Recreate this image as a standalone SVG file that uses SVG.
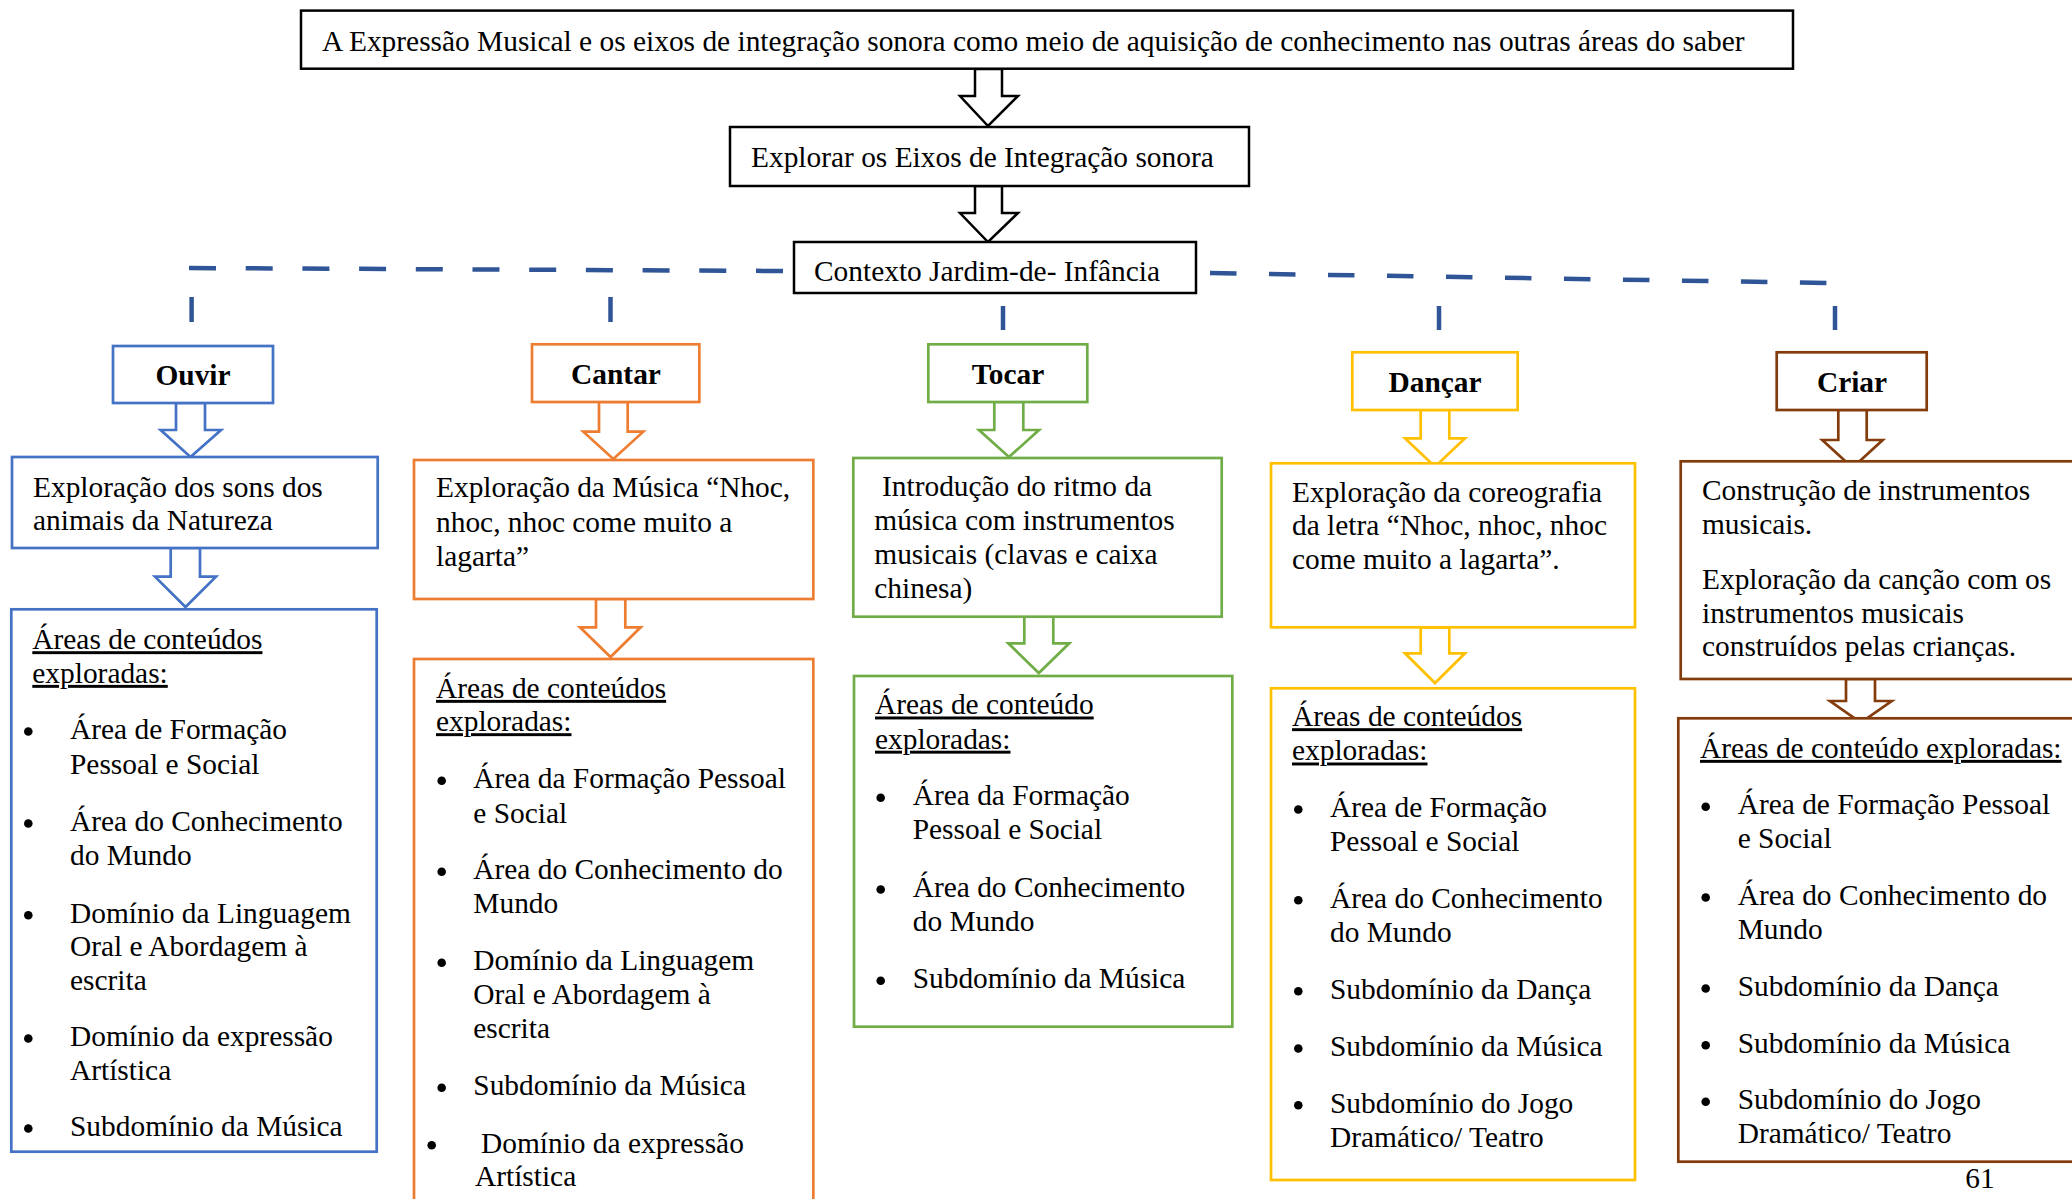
<svg xmlns="http://www.w3.org/2000/svg" width="2072" height="1199" viewBox="0 0 2072 1199">
<style>
text{font-family:"Liberation Serif","Times New Roman",serif;font-size:29.4px;fill:#000;transform:translateY(1.2px)}
.b{font-weight:bold;text-anchor:middle}
.h{text-decoration:underline}
.mid{text-anchor:middle}
.k{fill:#fff;stroke:#000;stroke-width:2.5}
.blue{fill:#fff;stroke:#4472C4;stroke-width:2.7}
.orange{fill:#fff;stroke:#ED7D31;stroke-width:2.7}
.green{fill:#fff;stroke:#70AD47;stroke-width:2.7}
.gold{fill:#fff;stroke:#FFC000;stroke-width:2.7}
.brown{fill:#fff;stroke:#843C0C;stroke-width:2.7}
.dash{fill:none;stroke:#2F5597;stroke-width:4.5}
.dot{fill:#000}
</style>
<rect width="2072" height="1199" fill="#fff"/>

<g id="connectors">
  <path class="dash" d="M189,268 L783,271" stroke-dasharray="27 29.7"/>
  <path class="dash" d="M1210,273 L1827,283" stroke-dasharray="26.5 32.5"/>
  <line class="dash" x1="191.6" y1="297" x2="191.6" y2="322"/>
  <line class="dash" x1="610.5" y1="297" x2="610.5" y2="322"/>
  <line class="dash" x1="1003" y1="306" x2="1003" y2="330"/>
  <line class="dash" x1="1439" y1="306" x2="1439" y2="330"/>
  <line class="dash" x1="1835" y1="306" x2="1835" y2="330"/>
  <polygon class="k" points="975,69 1002,69 1002,96 1018,96 988,126 960,96 975,96"/>
  <polygon class="k" points="975,186 1002,186 1002,213 1018,213 988,242 960,213 975,213"/>
  <polygon class="blue" points="176,403 205,403 205,430 221,430 190.5,457 160.7,430 176,430"/>
  <polygon class="blue" points="170.7,548 200,548 200,576.7 216,576.7 185.5,607 155,576.7 170.7,576.7"/>
  <polygon class="orange" points="599,402 627.7,402 627.7,431.7 643.3,431.7 613.3,459 583.3,431.7 599,431.7"/>
  <polygon class="orange" points="596,599 625.3,599 625.3,627.3 640.7,627.3 610.5,657 580,627.3 596,627.3"/>
  <polygon class="green" points="994.3,402 1023.3,402 1023.3,430 1039,430 1009,457 979,430 994.3,430"/>
  <polygon class="green" points="1024.3,616.7 1053.3,616.7 1053.3,643.3 1069.3,643.3 1038.8,673 1008.3,643.3 1024.3,643.3"/>
  <polygon class="gold" points="1420.7,410 1449.3,410 1449.3,438.3 1465,438.3 1435,466.7 1405,438.3 1420.7,438.3"/>
  <polygon class="gold" points="1420.7,627.3 1449.3,627.3 1449.3,653.3 1465,653.3 1435,683 1405,653.3 1420.7,653.3"/>
  <polygon class="brown" points="1838.3,410 1866.7,410 1866.7,440 1882.7,440 1852.5,467.7 1822.3,440 1838.3,440"/>
  <polygon class="brown" points="1846,679 1875,679 1875,701 1891.7,701 1860.8,722.7 1830,701 1846,701"/>
</g>

<g id="titulo">
  <rect class="k" x="301" y="10.6" width="1492" height="58.1"/>
  <text x="322" y="50">A Expressão Musical e os eixos de integração sonora como meio de aquisição de conhecimento nas outras áreas do saber</text>
</g>
<g id="explorar">
  <rect class="k" x="730" y="127" width="519" height="59"/>
  <text x="751" y="166">Explorar os Eixos de Integração sonora</text>
</g>
<g id="contexto">
  <rect class="k" x="794" y="242" width="402" height="51"/>
  <text x="814" y="280">Contexto Jardim-de- Infância</text>
</g>

<!-- Ouvir -->
<g id="ouvir">
  <rect class="blue" x="113" y="346" width="160" height="57"/>
  <text class="b" x="193" y="384">Ouvir</text>
</g>
<g id="ouvir-atividade">
  <rect class="blue" x="12" y="457" width="365.7" height="91"/>
  <text x="33" y="496">Exploração dos sons dos</text>
  <text x="33" y="529">animais da Natureza</text>
</g>
<g id="ouvir-areas">
  <rect class="blue" x="11.3" y="609.3" width="365.4" height="542.4"/>
  <text class="h" x="32.3" y="648">Áreas de conteúdos</text>
  <text class="h" x="32.3" y="681.7">exploradas:</text>
  <circle class="dot" cx="28.3" cy="731.5" r="4.3"/>
  <text x="70" y="738">Área de Formação</text>
  <text x="70" y="772.7">Pessoal e Social</text>
  <circle class="dot" cx="28.3" cy="823.5" r="4.3"/>
  <text x="70" y="830">Área do Conhecimento</text>
  <text x="70" y="864">do Mundo</text>
  <circle class="dot" cx="28.3" cy="915.2" r="4.3"/>
  <text x="70" y="921.7">Domínio da Linguagem</text>
  <text x="70" y="955">Oral e Abordagem à</text>
  <text x="70" y="988.5">escrita</text>
  <circle class="dot" cx="28.3" cy="1038.5" r="4.3"/>
  <text x="70" y="1045">Domínio da expressão</text>
  <text x="70" y="1078.5">Artística</text>
  <circle class="dot" cx="28.3" cy="1128.5" r="4.3"/>
  <text x="70" y="1135">Subdomínio da Música</text>
</g>

<!-- Cantar -->
<g id="cantar">
  <rect class="orange" x="532" y="344.3" width="167.3" height="57.7"/>
  <text class="b" x="616" y="383.3">Cantar</text>
</g>
<g id="cantar-atividade">
  <rect class="orange" x="414" y="460" width="399.3" height="139"/>
  <text x="436" y="496">Exploração da Música “Nhoc,</text>
  <text x="436" y="530.7">nhoc, nhoc come muito a</text>
  <text x="436" y="565">lagarta”</text>
</g>
<g id="cantar-areas">
  <rect class="orange" x="414" y="659" width="399.3" height="600"/>
  <text class="h" x="436" y="696.7">Áreas de conteúdos</text>
  <text class="h" x="436" y="730">exploradas:</text>
  <circle class="dot" cx="441.7" cy="780.8" r="4.3"/>
  <text x="473.3" y="787.3">Área da Formação Pessoal</text>
  <text x="473.3" y="821.7">e Social</text>
  <circle class="dot" cx="441.7" cy="871.8" r="4.3"/>
  <text x="473.3" y="878.3">Área do Conhecimento do</text>
  <text x="473.3" y="912.3">Mundo</text>
  <circle class="dot" cx="441.7" cy="962.8" r="4.3"/>
  <text x="473.3" y="969.3">Domínio da Linguagem</text>
  <text x="473.3" y="1003.3">Oral e Abordagem à</text>
  <text x="473.3" y="1037.3">escrita</text>
  <circle class="dot" cx="441.7" cy="1087.8" r="4.3"/>
  <text x="473.3" y="1094.3">Subdomínio da Música</text>
  <circle class="dot" cx="431.7" cy="1145.2" r="4.3"/>
  <text x="481" y="1151.7">Domínio da expressão</text>
  <text x="475" y="1185">Artística</text>
</g>

<!-- Tocar -->
<g id="tocar">
  <rect class="green" x="928.3" y="344.3" width="159" height="57.7"/>
  <text class="b" x="1008" y="382.7">Tocar</text>
</g>
<g id="tocar-atividade">
  <rect class="green" x="853.3" y="458" width="368.4" height="158.7"/>
  <text x="882" y="495">Introdução do ritmo da</text>
  <text x="874.3" y="529.3">música com instrumentos</text>
  <text x="874.3" y="563.3">musicais (clavas e caixa</text>
  <text x="874.3" y="597.3">chinesa)</text>
</g>
<g id="tocar-areas">
  <rect class="green" x="854" y="676" width="378.3" height="350.7"/>
  <text class="h" x="875" y="713.3">Áreas de conteúdo</text>
  <text class="h" x="875" y="747.5">exploradas:</text>
  <circle class="dot" cx="880.7" cy="797.8" r="4.3"/>
  <text x="912.7" y="804.3">Área da Formação</text>
  <text x="912.7" y="838.3">Pessoal e Social</text>
  <circle class="dot" cx="880.7" cy="889.5" r="4.3"/>
  <text x="912.7" y="896">Área do Conhecimento</text>
  <text x="912.7" y="930">do Mundo</text>
  <circle class="dot" cx="880.7" cy="980.8" r="4.3"/>
  <text x="912.7" y="987.3">Subdomínio da Música</text>
</g>

<!-- Dançar -->
<g id="dancar">
  <rect class="gold" x="1352.3" y="352.3" width="165.4" height="57.7"/>
  <text class="b" x="1435" y="390.7">Dançar</text>
</g>
<g id="dancar-atividade">
  <rect class="gold" x="1271" y="463.3" width="364" height="164"/>
  <text x="1292" y="501">Exploração da coreografia</text>
  <text x="1292" y="534.3">da letra “Nhoc, nhoc, nhoc</text>
  <text x="1292" y="568.3">come muito a lagarta”.</text>
</g>
<g id="dancar-areas">
  <rect class="gold" x="1271" y="688.3" width="364" height="491.7"/>
  <text class="h" x="1292" y="725">Áreas de conteúdos</text>
  <text class="h" x="1292" y="759.3">exploradas:</text>
  <circle class="dot" cx="1298.3" cy="809.5" r="4.3"/>
  <text x="1330" y="816">Área de Formação</text>
  <text x="1330" y="850">Pessoal e Social</text>
  <circle class="dot" cx="1298.3" cy="900.2" r="4.3"/>
  <text x="1330" y="906.7">Área do Conhecimento</text>
  <text x="1330" y="940.7">do Mundo</text>
  <circle class="dot" cx="1298.3" cy="991.2" r="4.3"/>
  <text x="1330" y="997.7">Subdomínio da Dança</text>
  <circle class="dot" cx="1298.3" cy="1048.5" r="4.3"/>
  <text x="1330" y="1055">Subdomínio da Música</text>
  <circle class="dot" cx="1298.3" cy="1105.2" r="4.3"/>
  <text x="1330" y="1111.7">Subdomínio do Jogo</text>
  <text x="1330" y="1145.7">Dramático/ Teatro</text>
</g>

<!-- Criar -->
<g id="criar">
  <rect class="brown" x="1776.7" y="352.3" width="150" height="57.7"/>
  <text class="b" x="1852" y="390.7">Criar</text>
</g>
<g id="criar-atividade">
  <rect class="brown" x="1680.7" y="461.3" width="500" height="217.7"/>
  <text x="1702" y="499.3">Construção de instrumentos</text>
  <text x="1702" y="532.7">musicais.</text>
  <text x="1702" y="587.7">Exploração da canção com os</text>
  <text x="1702" y="621.7">instrumentos musicais</text>
  <text x="1702" y="655">construídos pelas crianças.</text>
</g>
<g id="criar-areas">
  <rect class="brown" x="1678.3" y="718.3" width="500" height="443.4"/>
  <text class="h" x="1700" y="756.7">Áreas de conteúdo exploradas:</text>
  <circle class="dot" cx="1705.7" cy="806.8" r="4.3"/>
  <text x="1737.7" y="813.3">Área de Formação Pessoal</text>
  <text x="1737.7" y="846.7">e Social</text>
  <circle class="dot" cx="1705.7" cy="897.5" r="4.3"/>
  <text x="1737.7" y="904">Área do Conhecimento do</text>
  <text x="1737.7" y="937.7">Mundo</text>
  <circle class="dot" cx="1705.7" cy="988.5" r="4.3"/>
  <text x="1737.7" y="995">Subdomínio da Dança</text>
  <circle class="dot" cx="1705.7" cy="1045.2" r="4.3"/>
  <text x="1737.7" y="1051.7">Subdomínio da Música</text>
  <circle class="dot" cx="1705.7" cy="1101.8" r="4.3"/>
  <text x="1737.7" y="1108.3">Subdomínio do Jogo</text>
  <text x="1737.7" y="1142.3">Dramático/ Teatro</text>
</g>

<g id="pagina">
  <text class="mid" x="1980" y="1186.7">61</text>
</g>
</svg>
